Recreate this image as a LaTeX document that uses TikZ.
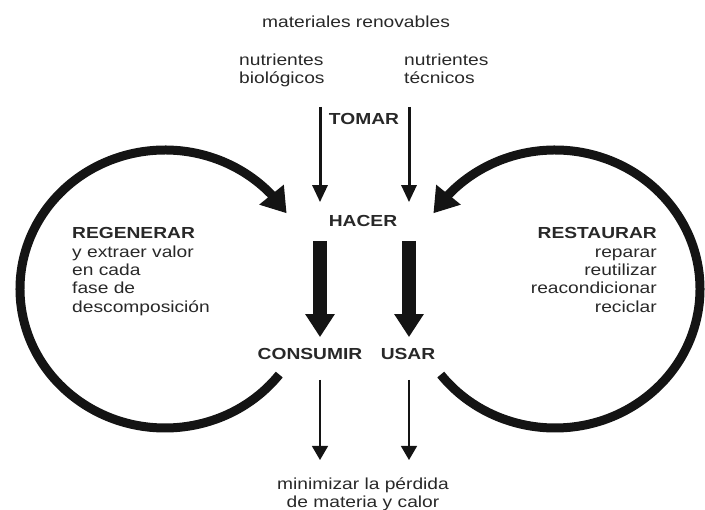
\documentclass[tikz,border=0pt]{standalone}
\usepackage{fontspec}
\setmainfont{Liberation Sans}[FakeStretch=1.2]
\usetikzlibrary{arrows.meta,bending}
\definecolor{inkgray}{RGB}{40,40,40}
\definecolor{arrowblack}{RGB}{20,20,20}

\begin{document}
\begin{tikzpicture}[x=1pt, y=1pt,
  every node/.style={inner sep=0pt, text=inkgray, font=\fontsize{16}{18.3}\selectfont},
  headword/.style={font=\fontsize{16}{18.3}\selectfont\bfseries},
  thinarrow/.style={draw=arrowblack, line width=3pt, -{Triangle[length=17pt,width=15pt]}},
  thickarrow/.style={draw=arrowblack, line width=14pt, -{Triangle[length=23pt,width=28pt]}},
  finearrow/.style={draw=arrowblack, line width=1.4pt, -{Triangle[length=14pt,width=16pt]}},
  looparrow/.style={draw=arrowblack, line width=9pt, -{Triangle[length=24pt,width=30pt]}}]

  \useasboundingbox (0,0) rectangle (705,510);

  \node[anchor=base] (renovables) at (356,482) {materiales renovables};
  \node[anchor=north west, align=left] (biologicos) at (239,456.5) {nutrientes\\biológicos};
  \node[anchor=north west, align=left] (tecnicos) at (404,456.5) {nutrientes\\técnicos};
  \node[headword, anchor=base] (tomar) at (364,385) {TOMAR};
  \node[headword, anchor=base, inner ysep=13.5pt] (hacer) at (363,283) {HACER};
  \node[headword, anchor=base, inner ysep=11.5pt] (consumir) at (310,150) {CONSUMIR};
  \node[headword, anchor=base, inner ysep=11.5pt] (usar) at (408,150) {USAR};
  \node[anchor=north, align=center, font=\fontsize{16}{18}\selectfont] (perdida) at (363,32.5) {minimizar la pérdida\\de materia y calor};
  \node[anchor=north west, align=left] (regenerar) at (72,282.5) {\textbf{REGENERAR}\\y extraer valor\\en cada\\fase de\\descomposición};
  \node[anchor=north east, align=right] (restaurar) at (657,282.5) {\textbf{RESTAURAR}\\reparar\\reutilizar\\reacondicionar\\reciclar};

  \coordinate (bioin) at (320,403);
  \coordinate (tecin) at (409,403);
  \coordinate (bioout) at (320,50);
  \coordinate (tecout) at (409,50);
  \coordinate (regencenter) at (165,221);
  \coordinate (restcenter) at (555,221);

  \draw[thinarrow] (bioin) -- (bioin |- hacer.north);
  \draw[thinarrow] (tecin) -- (tecin |- hacer.north);
  \draw[thickarrow] (bioin |- hacer.south) -- (bioin |- consumir.north);
  \draw[thickarrow] (tecin |- hacer.south) -- (tecin |- usar.north);
  \draw[finearrow, shorten <=8pt] (bioout |- consumir.south) -- (bioout);
  \draw[finearrow, shorten <=8pt] (tecout |- usar.south) -- (tecout);

  \draw[looparrow] (regencenter) ++(-38:145 and 139) arc[start angle=-38, end angle=-327, x radius=145, y radius=139];
  \draw[looparrow] (restcenter) ++(218:145 and 139) arc[start angle=218, end angle=507, x radius=145, y radius=139];
\end{tikzpicture}
\end{document}
